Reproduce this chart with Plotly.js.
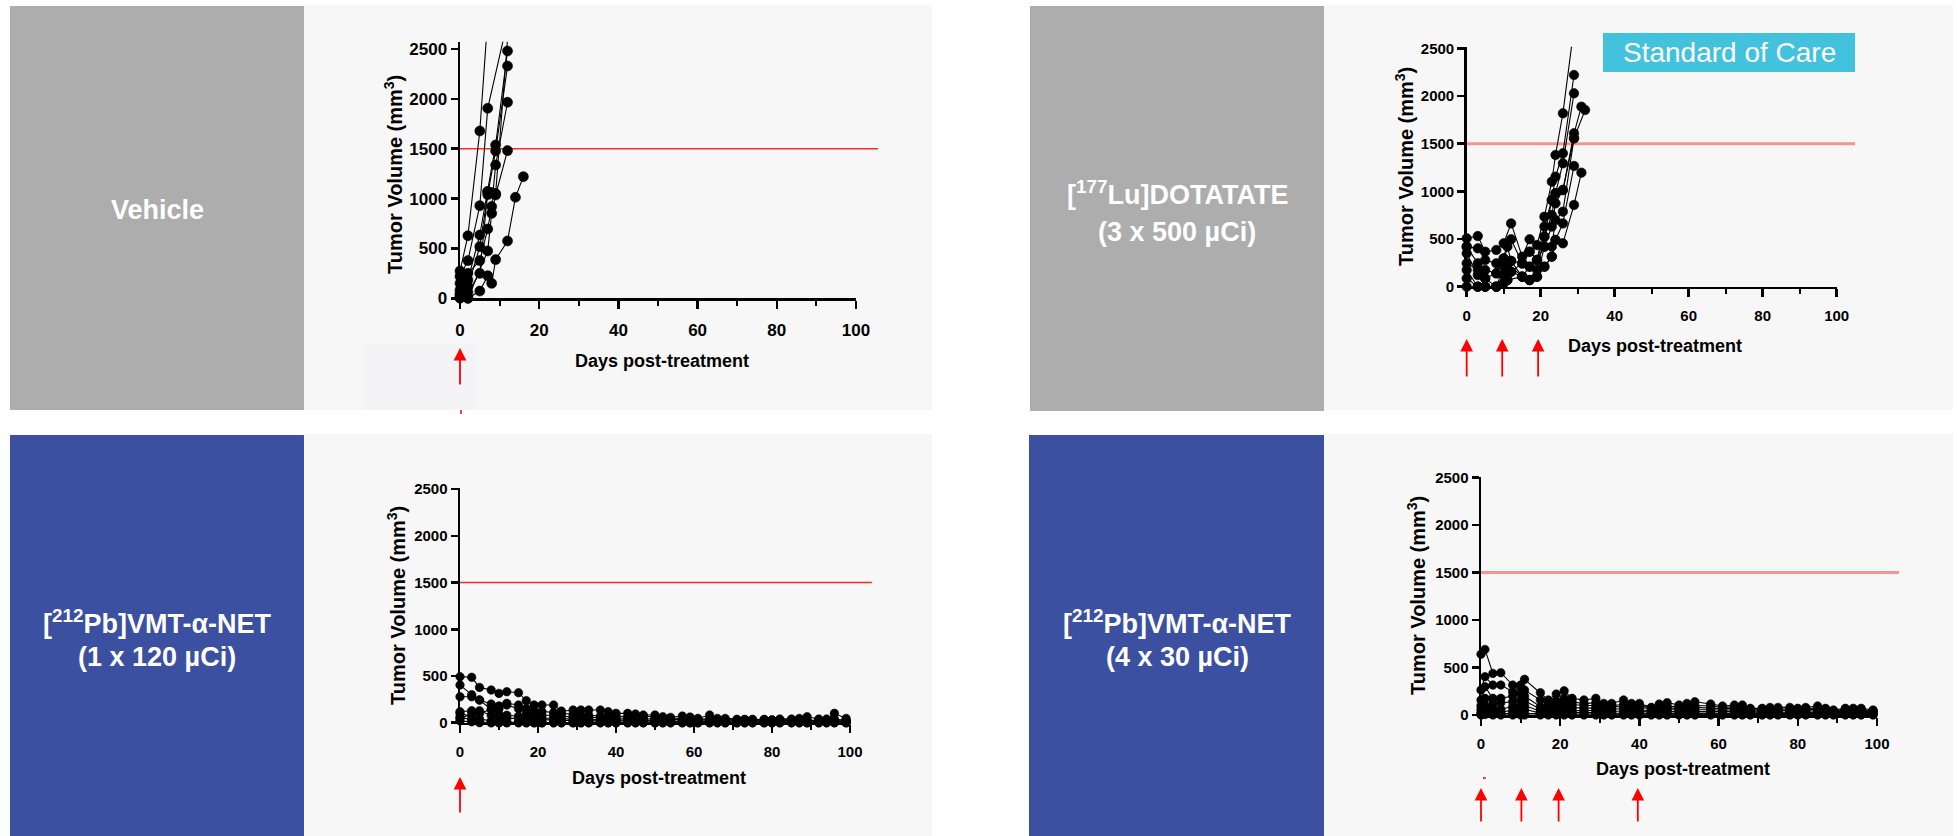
<!DOCTYPE html>
<html>
<head>
<meta charset="utf-8">
<script src="https://cdn.plot.ly/plotly-3.0.1.min.js"></script>
<style>
html,body{margin:0;padding:0;background:#ffffff;}
#chart{width:1957px;height:836px;}
</style>
</head>
<body>
<div id="chart"></div>
<script>
// ---------------- DATA ----------------
// Vehicle group: each mouse has its own measurement days
const vehicleDays = [
  [0, 2, 5, 7],
  [0, 2, 5, 7, 12],
  [0, 2, 5, 7, 9, 12],
  [0, 2, 5, 7, 9, 12],
  [0, 2, 5, 7, 8, 9, 12],
  [0, 2, 7, 8, 9, 12],
  [0, 2, 5, 7, 8, 9, 12, 14, 16],
  [0, 2, 5, 7, 8, 9, 12]
];
const vehicleVolumes = [
  [274, 628, 1678, 2800],
  [220, 378, 929, 1905, 2780],
  [83, 184, 635, 1070, 1538, 2480],
  [17, 117, 518, 1040, 1478, 2330],
  [150, 250, 378, 695, 920, 1337, 1966],
  [0, 0, 475, 852, 1036, 1481],
  [30, 0, 73, 227, 150, 388, 575, 1013, 1220],
  [50, 60, 250, 1070, 1060, 1050, 2600]
];

// [177Lu]DOTATATE group
const luDays = [
  [0, 3, 5, 8, 10, 12, 15, 17, 19, 21, 23, 24, 26, 29],
  [0, 3, 5, 8, 10, 12, 15, 17, 19, 21, 23, 24, 26, 29],
  [0, 3, 5, 8, 11, 12, 15, 17, 19, 21, 23, 24, 26, 29],
  [0, 3, 5, 8, 10, 11, 15, 17, 19, 21, 23, 24, 26, 29, 31],
  [0, 3, 5, 8, 10, 11, 12, 15, 17, 19, 21, 23, 24, 26, 29, 32],
  [0, 3, 5, 8, 10, 11, 12, 15, 17, 19, 21, 23, 24, 26, 29],
  [0, 3, 5, 8, 11, 15, 17, 19, 21, 23, 24, 26, 29, 31],
  [0, 3, 5, 8, 10, 12, 15, 17, 19, 21, 23, 24, 26, 29]
];
const luVolumes = [
  [507, 531, 367, 385, 455, 664, 315, 497, 437, 734, 1101, 1381, 1818, 2720],
  [420, 402, 280, 245, 297, 497, 245, 367, 280, 630, 909, 1154, 1399, 2220],
  [420, 245, 175, 140, 420, 270, 105, 210, 175, 525, 752, 979, 1294, 2028],
  [350, 122, 87, 0, 210, 245, 105, 70, 105, 420, 630, 874, 1014, 1609, 1888],
  [175, 0, 0, 0, 122, 157, 157, 245, 210, 280, 420, 420, 699, 787, 1556, 1853],
  [87, 0, 0, 0, 35, 70, 157, 105, 70, 105, 210, 315, 490, 664, 1266],
  [0, 0, 0, 0, 70, 105, 70, 105, 210, 315, 490, 455, 857, 1196],
  [245, 175, 87, 140, 297, 270, 245, 367, 280, 525, 909, 979, 1014, 1556]
];

// [212Pb]VMT-alpha-NET 1 x 120 uCi group (shared measurement days)
const pb120Days = [0, 3, 5, 8, 10, 12, 15, 17, 19, 21, 24, 26, 29, 31, 33, 36, 38, 40, 43, 45, 47, 50, 52, 54, 57, 59, 61, 64, 66, 68, 71, 73, 75, 78, 80, 82, 85, 87, 89, 92, 94, 96, 99];
const pb120Volumes = [
  [493, 486, 378, 350, 314, 332, 321, 236, 189, 189, 189, 125, 136, 136, 136, 136, 118, 100, 100, 93, 82, 82, 64, 57, 71, 60, 46, 82, 46, 46, 36, 36, 36, 36, 30, 39, 39, 46, 64, 39, 39, 100, 46],
  [403, 300, 243, 200, 180, 207, 189, 153, 130, 120, 110, 100, 90, 80, 80, 70, 65, 71, 60, 60, 71, 55, 50, 45, 45, 40, 40, 40, 35, 35, 30, 30, 30, 30, 30, 30, 30, 30, 25, 25, 25, 40, 25],
  [278, 278, 243, 143, 150, 190, 150, 110, 100, 80, 80, 70, 60, 60, 55, 50, 50, 50, 45, 45, 45, 40, 40, 35, 35, 30, 30, 30, 30, 25, 25, 25, 25, 25, 25, 25, 25, 20, 20, 20, 20, 20, 20],
  [118, 128, 100, 143, 90, 80, 70, 60, 50, 50, 45, 40, 40, 35, 35, 30, 30, 30, 30, 25, 25, 25, 25, 20, 20, 20, 20, 20, 20, 15, 15, 15, 15, 15, 15, 15, 15, 15, 15, 15, 15, 15, 15],
  [46, 100, 128, 80, 60, 50, 45, 40, 35, 30, 30, 25, 25, 20, 20, 20, 20, 20, 15, 15, 15, 15, 15, 10, 10, 10, 10, 10, 10, 10, 10, 10, 10, 10, 10, 10, 10, 10, 10, 10, 10, 10, 10],
  [100, 60, 40, 20, 10, 5, 5, 0, 0, 0, 0, 0, 0, 0, 0, 0, 0, 0, 0, 0, 0, 0, 0, 0, 0, 0, 0, 0, 0, 0, 0, 0, 0, 0, 0, 0, 0, 0, 0, 0, 0, 0, 0],
  [60, 30, 10, 0, 0, 0, 0, 0, 0, 0, 0, 0, 0, 0, 0, 0, 0, 0, 0, 0, 0, 0, 0, 0, 0, 0, 0, 0, 0, 0, 0, 0, 0, 0, 0, 0, 0, 0, 0, 0, 0, 0, 0],
  [20, 10, 0, 0, 0, 0, 0, 0, 0, 0, 0, 0, 0, 0, 0, 0, 0, 0, 0, 0, 0, 0, 0, 0, 0, 0, 0, 0, 0, 0, 0, 0, 0, 0, 0, 0, 0, 0, 0, 0, 0, 0, 0]
];

// [212Pb]VMT-alpha-NET 4 x 30 uCi group (shared measurement days)
const pb30Days = [0, 1, 3, 5, 8, 10, 11, 15, 17, 19, 21, 23, 26, 29, 31, 33, 36, 38, 40, 43, 45, 47, 50, 52, 54, 58, 61, 64, 66, 68, 71, 73, 75, 78, 80, 82, 85, 87, 89, 92, 94, 96, 99];
const pb30Volumes = [
  [640, 690, 438, 445, 315, 315, 375, 235, 158, 220, 255, 175, 158, 175, 122, 122, 158, 122, 122, 80, 115, 130, 105, 122, 140, 115, 95, 105, 105, 70, 70, 80, 80, 80, 70, 80, 95, 70, 52, 70, 70, 70, 52],
  [263, 403, 315, 315, 245, 298, 262, 158, 120, 150, 175, 140, 120, 130, 110, 100, 110, 95, 100, 75, 90, 95, 85, 90, 100, 95, 80, 85, 80, 60, 60, 65, 65, 65, 60, 65, 75, 60, 45, 60, 55, 55, 45],
  [158, 298, 175, 175, 200, 230, 200, 88, 100, 120, 130, 110, 100, 100, 90, 85, 90, 80, 85, 60, 70, 75, 70, 70, 80, 75, 65, 70, 65, 50, 50, 55, 55, 55, 50, 55, 60, 50, 40, 50, 45, 45, 40],
  [100, 175, 120, 130, 140, 160, 150, 60, 70, 80, 90, 80, 70, 75, 65, 60, 65, 60, 60, 45, 55, 55, 55, 55, 60, 55, 50, 55, 50, 40, 40, 45, 45, 45, 40, 45, 45, 40, 35, 40, 40, 40, 35],
  [60, 100, 80, 60, 90, 100, 100, 40, 50, 50, 60, 50, 45, 50, 40, 40, 40, 40, 40, 30, 35, 35, 35, 35, 40, 35, 35, 35, 35, 30, 30, 30, 30, 30, 30, 30, 30, 30, 25, 30, 30, 30, 25],
  [30, 60, 40, 30, 50, 60, 60, 20, 30, 30, 30, 30, 25, 25, 20, 20, 20, 20, 20, 15, 15, 15, 15, 15, 20, 15, 15, 15, 15, 15, 15, 15, 15, 15, 15, 15, 15, 15, 15, 15, 15, 15, 15],
  [10, 20, 10, 10, 20, 30, 20, 10, 10, 10, 10, 10, 10, 10, 5, 5, 5, 5, 5, 5, 5, 5, 5, 5, 5, 5, 5, 5, 5, 5, 5, 5, 5, 5, 5, 5, 5, 5, 5, 5, 5, 5, 5],
  [0, 5, 0, 0, 0, 0, 0, 0, 0, 0, 0, 0, 0, 0, 0, 0, 0, 0, 0, 0, 0, 0, 0, 0, 0, 0, 0, 0, 0, 0, 0, 0, 0, 0, 0, 0, 0, 0, 0, 0, 0, 0, 0]
];

// Dosing days (red arrows) and endpoint threshold
const vehicleDoseDays = [0];
const luDoseDays = [0, 9.6, 19.3];
const pb120DoseDays = [0];
const pb30DoseDays = [0, 10.2, 19.6, 39.6];
const endpointVolume = 1500;

// Labels
const groupLabels = [
  ['Vehicle'],
  ['[<sup>177</sup>Lu]DOTATATE', '(3 x 500 µCi)'],
  ['[<sup>212</sup>Pb]VMT-α-NET', '(1 x 120 µCi)'],
  ['[<sup>212</sup>Pb]VMT-α-NET', '(4 x 30 µCi)']
];
const yTitle = 'Tumor Volume (mm<sup>3</sup>)';
const xTitle = 'Days post-treatment';
const xTickVals = [0, 20, 40, 60, 80, 100];
const yTickVals = [0, 500, 1000, 1500, 2000, 2500];
const badgeText = 'Standard of Care';

// ---------------- LAYOUT HELPERS ----------------
const W = 1957, H = 836;
const fx = p => p / W;
const fy = p => 1 - p / H;
const FONT = '"Liberation Sans", Arial, Helvetica, sans-serif';

const panels = [
  {days: vehicleDays, vols: vehicleVolumes, dose: vehicleDoseDays,
   x0: 460, x1: 856, yZero: 298.3, y2500: 49, yTop: 2573, msize: 10, tick: 17, standoff: 7,
   redEnd: 878, redColor: '#ff2a2a', redW: 1.5,
   labelX: 157, labelY: [210], yTitleX: 394, yTitleY: 175, xTitleX: 662, xTitleY: 361,
   arrowTip: 348, arrowLen: 38},
  {days: luDays, vols: luVolumes, dose: luDoseDays,
   x0: 1466.7, x1: 1836.7, yZero: 286.7, y2500: 48.3, yTop: 2515, msize: 9.5, tick: 15, standoff: 6,
   redEnd: 1855, redColor: '#f39393', redW: 3,
   labelX: 1177, labelY: [193, 232], yTitleX: 1404, yTitleY: 167, xTitleX: 1655, xTitleY: 346,
   arrowTip: 339, arrowLen: 39},
  {days: pb120Volumes.map(() => pb120Days), vols: pb120Volumes, dose: pb120DoseDays,
   x0: 460, x1: 850, yZero: 722.7, y2500: 489.2, yTop: 2510, msize: 8.5, tick: 15, standoff: 6,
   redEnd: 872, redColor: '#ff2a2a', redW: 1.5,
   labelX: 157, labelY: [622, 657], yTitleX: 396, yTitleY: 606, xTitleX: 659, xTitleY: 778,
   arrowTip: 777, arrowLen: 37},
  {days: pb30Volumes.map(() => pb30Days), vols: pb30Volumes, dose: pb30DoseDays,
   x0: 1481, x1: 1877, yZero: 715, y2500: 477.5, yTop: 2510, msize: 8.5, tick: 15, standoff: 5,
   redEnd: 1899, redColor: '#f39393', redW: 3,
   labelX: 1177, labelY: [622, 657], yTitleX: 1416, yTitleY: 596, xTitleX: 1683, xTitleY: 769,
   arrowTip: 788, arrowLen: 35}
];

const traces = [];
const layout = {
  width: W, height: H,
  margin: {l: 0, r: 0, t: 0, b: 0},
  paper_bgcolor: '#ffffff',
  plot_bgcolor: 'rgba(0,0,0,0)',
  showlegend: false,
  font: {family: FONT, color: '#000'},
  shapes: [],
  annotations: []
};

// Background blocks
const blocks = [
  [10, 6, 304, 410, '#adadad'], [304, 5, 932, 410, '#f7f7f7'],
  [1030, 6, 1324, 411, '#adadad'], [1324, 5, 1953, 410, '#f7f7f7'],
  [10, 435, 304, 836, '#3b50a0'], [304, 434, 932, 836, '#f7f7f7'],
  [1029, 435, 1324, 836, '#3b50a0'], [1324, 434, 1953, 836, '#f7f7f7'],
  [363, 343, 476, 410, '#f4f4f7']
];
blocks.forEach(b => layout.shapes.push({type: 'rect', xref: 'paper', yref: 'paper', layer: 'below',
  x0: fx(b[0]), x1: fx(b[2]), y0: fy(b[3]), y1: fy(b[1]), fillcolor: b[4], line: {width: 0}}));

panels.forEach((p, i) => {
  const sfx = i === 0 ? '' : String(i + 1);
  const xa = 'x' + sfx, ya = 'y' + sfx;
  const ppu = (p.yZero - p.y2500) / 2500;
  const topPx = p.yZero - p.yTop * ppu;

  layout['xaxis' + sfx] = {
    domain: [fx(p.x0), fx(p.x1)], anchor: ya, range: [0, 100],
    tickvals: xTickVals, ticks: 'outside', ticklen: 8, tickwidth: 2.5, tickcolor: '#000',
    showline: true, linewidth: 2.5, linecolor: '#000', showgrid: false, zeroline: false,
    minor: {dtick: 10, tick0: 0, ticks: 'outside', ticklen: 5, tickwidth: 2, tickcolor: '#000', showgrid: false},
    tickfont: {family: FONT, size: p.tick, color: '#000', weight: 'bold'},
    ticklabelstandoff: p.standoff, fixedrange: true
  };
  layout['yaxis' + sfx] = {
    domain: [fy(p.yZero), fy(topPx)], anchor: xa, range: [0, p.yTop],
    tickvals: yTickVals, ticks: 'outside', ticklen: 7, tickwidth: 2.5, tickcolor: '#000',
    showline: true, linewidth: 2.5, linecolor: '#000', showgrid: false, zeroline: false,
    tickfont: {family: FONT, size: p.tick, color: '#000', weight: 'bold'},
    fixedrange: true
  };

  // Endpoint line (drawn below the data)
  layout.shapes.push({type: 'line', xref: 'paper', yref: ya, layer: 'below',
    x0: fx(p.x0), x1: fx(p.redEnd), y0: endpointVolume, y1: endpointVolume,
    line: {color: p.redColor, width: p.redW}});

  // Mouse traces
  p.vols.forEach((v, m) => {
    traces.push({
      type: 'scatter', mode: 'lines+markers', x: p.days[m], y: v,
      xaxis: xa, yaxis: ya, cliponaxis: false, hoverinfo: 'skip', opacity: 1,
      line: {color: '#000', width: 1.1},
      marker: {color: '#000', opacity: 1, line: {width: 0.6, color: '#000'},
               size: v.map(val => val > p.yTop ? 0 : p.msize)}
    });
  });

  // Dosing arrows
  p.dose.forEach(d => layout.annotations.push({
    xref: xa, yref: 'paper', x: d, y: fy(p.arrowTip), text: '', showarrow: true,
    ax: 0, ay: p.arrowLen, arrowhead: 2, arrowsize: 1.4, arrowwidth: 1.8, arrowcolor: '#ff0000', standoff: 0
  }));

  // Group label
  const lines = groupLabels[i];
  lines.forEach((t, k) => layout.annotations.push({
    xref: 'paper', yref: 'paper', x: fx(p.labelX), y: fy(p.labelY[k]), xanchor: 'center', yanchor: 'middle',
    text: t, showarrow: false, font: {family: FONT, size: 27, color: '#ffffff', weight: 'bold'}
  }));

  // Axis titles
  layout.annotations.push({
    xref: 'paper', yref: 'paper', x: fx(p.yTitleX), y: fy(p.yTitleY), xanchor: 'center', yanchor: 'middle',
    textangle: -90, text: yTitle, showarrow: false, font: {family: FONT, size: 20, color: '#000', weight: 'bold'}
  });
  layout.annotations.push({
    xref: 'paper', yref: 'paper', x: fx(p.xTitleX), y: fy(p.xTitleY), xanchor: 'center', yanchor: 'middle',
    text: xTitle, showarrow: false, font: {family: FONT, size: 18, color: '#000', weight: 'bold'}
  });
});

// small red remnants
layout.shapes.push({type: 'line', xref: 'paper', yref: 'paper', x0: fx(461), x1: fx(461), y0: fy(410), y1: fy(414), line: {color: '#ff0000', width: 1.5}});
layout.shapes.push({type: 'line', xref: 'paper', yref: 'paper', x0: fx(1483), x1: fx(1486), y0: fy(778), y1: fy(778), line: {color: '#ff0000', width: 1.5}});

// Standard of Care badge
layout.shapes.push({type: 'rect', xref: 'paper', yref: 'paper', layer: 'above',
  x0: fx(1603), x1: fx(1855), y0: fy(72), y1: fy(33), fillcolor: '#42c2dc', line: {width: 0}});
layout.annotations.push({xref: 'paper', yref: 'paper', x: fx(1729), y: fy(52.5), xanchor: 'center', yanchor: 'middle',
  text: badgeText, showarrow: false, font: {family: FONT, size: 28, color: '#ffffff'}});

Plotly.newPlot('chart', traces, layout, {staticPlot: true, displayModeBar: false});
</script>
</body>
</html>
